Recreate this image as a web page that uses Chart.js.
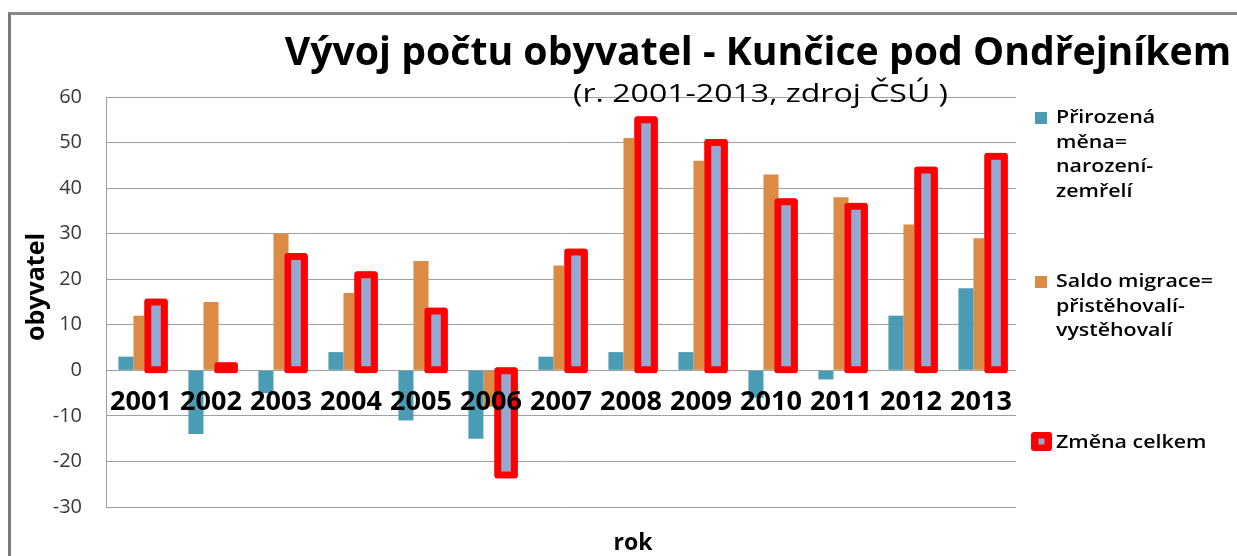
<!DOCTYPE html>
<html lang="cs">

<head>
    <meta charset="UTF-8">
    <title>Vývoj počtu obyvatel - Kunčice pod Ondřejníkem</title>
    <script src="https://cdn.jsdelivr.net/npm/chart.js"></script>
    <style>
        html, body { margin: 0; padding: 0; background: #fff; overflow: hidden; }
        .ramecek {
            position: absolute; left: 8px; top: 12px; width: 1400px; height: 700px;
            border-left: 3px solid #7a7a7a; border-top: 3px solid #8a8a8a;
        }
        .graf { position: absolute; left: 0; top: 0; }
    </style>
</head>

<body>
    <div class="ramecek"></div>
    <div class="graf">
        <canvas id="myChart" width="1237" height="556"></canvas>
    </div>

<script>
    // data
    var roky = ['2001', '2002', '2003', '2004', '2005', '2006', '2007', '2008', '2009', '2010', '2011', '2012', '2013'];
    var prirozenaMena = [3, -14, -5, 4, -11, -15, 3, 4, 4, -6, -2, 12, 18];
    var saldoMigrace = [12, 15, 30, 17, 24, -8, 23, 51, 46, 43, 38, 32, 29];
    var zmenaCelkem = [15, 1, 25, 21, 13, -23, 26, 55, 50, 37, 36, 44, 47];
    var osaYMin = -30;
    var osaYMax = 60;
    var osaYKrok = 10;

    var nadpis = 'Vývoj počtu obyvatel - Kunčice pod Ondřejníkem';
    var podnadpis = '(r. 2001-2013, zdroj ČSÚ )';
    var popisX = 'rok';
    var popisY = 'obyvatel';
    var legendaRadky = [
        ['Přirozená', 'měna=', 'narození-', 'zemřelí'],
        ['Saldo migrace=', 'přistěhovalí-', 'vystěhovalí'],
        ['Změna celkem']
    ];

    var pismo = "'Open Sans', 'Noto Sans', sans-serif";

    // text roztazeny do sirky (puvodni graf je roztazeny)
    function textSirka(ctx, text, x, y, sx) {
        ctx.save();
        ctx.translate(x, y);
        ctx.scale(sx, 1);
        ctx.fillText(text, 0, 0);
        ctx.restore();
    }

    // nadpisy, popisky os a legenda
    const popisky = {
        id: 'popisky',
        afterDraw(chart) {
            const ctx = chart.ctx;
            ctx.save();
            ctx.fillStyle = '#000';
            ctx.textAlign = 'center';
            ctx.textBaseline = 'alphabetic';

            ctx.font = 'bold 34px ' + pismo;
            let sirka = ctx.measureText(nadpis).width;
            let velikost = 34 * 947 / sirka;
            ctx.font = 'bold ' + velikost.toFixed(1) + 'px ' + pismo;
            ctx.fillText(nadpis, 758, 65);

            ctx.font = '25px ' + pismo;
            sirka = ctx.measureText(podnadpis).width;
            textSirka(ctx, podnadpis, 760.5, 102, 375 / sirka);

            ctx.font = 'bold 23px ' + pismo;
            ctx.fillText(popisX, 633, 550);

            ctx.save();
            ctx.translate(44, 287);
            ctx.rotate(-Math.PI / 2);
            ctx.font = 'bold 25px ' + pismo;
            ctx.fillText(popisY, 0, 0);
            ctx.restore();

            // legenda
            const ds = chart.data.datasets;
            const zacatky = [123, 287, 448];
            ctx.textAlign = 'left';
            ctx.font = '600 18px ' + pismo;
            const sx = 157 / ctx.measureText(legendaRadky[1][0]).width;
            for (let i = 0; i < ds.length; i++) {
                const y0 = zacatky[i];
                if (i < 2) {
                    ctx.fillStyle = ds[i].backgroundColor;
                    ctx.fillRect(1035, y0 - 11, 12, 12);
                } else {
                    ctx.fillStyle = ds[i].borderColor;
                    ctx.beginPath();
                    ctx.roundRect(1031, y0 - 16, 21, 19, 3);
                    ctx.fill();
                    ctx.fillStyle = '#94a9d1';
                    ctx.fillRect(1038.5, y0 - 9.5, 6, 6);
                }
                ctx.fillStyle = '#000';
                const radky = legendaRadky[i];
                for (let r = 0; r < radky.length; r++) {
                    textSirka(ctx, radky[r], 1056, y0 + r * 24.5, sx);
                }
            }
            ctx.restore();
        }
    };

    // cervene sloupce navrch
    const cervenaNavrch = {
        id: 'cervenaNavrch',
        afterDatasetsDraw(chart) {
            const meta = chart.getDatasetMeta(2);
            if (meta && meta.controller) meta.controller.draw();
        }
    };

    const config = {
        type: 'bar',
        data: {
            labels: roky,
            datasets: [{
                label: legendaRadky[0].join(' '),
                data: prirozenaMena,
                backgroundColor: '#4a9cb5',
                borderWidth: 0,
                barPercentage: 1,
                categoryPercentage: 0.645
            }, {
                label: legendaRadky[1].join(' '),
                data: saldoMigrace,
                backgroundColor: '#dc8b45',
                borderWidth: 0,
                barPercentage: 1,
                categoryPercentage: 0.645
            }, {
                label: legendaRadky[2].join(' '),
                data: zmenaCelkem,
                backgroundColor: function (c) {
                    return Math.abs(c.raw) < 3 ? '#ff0000' : '#94a9d1';
                },
                borderColor: '#ff0000',
                borderWidth: 7,
                borderRadius: 3,
                borderSkipped: false,
                inflateAmount: 3.5,
                barPercentage: 1.1,
                categoryPercentage: 0.645
            }]
        },
        options: {
            responsive: false,
            animation: false,
            layout: {
                padding: { top: 97, right: 221, bottom: 49, left: 10 }
            },
            plugins: {
                legend: { display: false },
                title: { display: false },
                tooltip: { enabled: false }
            },
            scales: {
                x: {
                    position: { y: 0 },
                    offset: true,
                    grid: { display: false, drawTicks: false },
                    border: { display: false },
                    ticks: {
                        z: 1,
                        autoSkip: false,
                        maxRotation: 0,
                        padding: 16,
                        color: '#000',
                        font: { size: 27, weight: 'bold', family: pismo }
                    }
                },
                y: {
                    min: osaYMin,
                    max: osaYMax,
                    afterFit: function (scale) { scale.width = 96; },
                    grid: { color: '#a0a0a0', lineWidth: 1, drawTicks: false },
                    border: { display: true, color: '#a0a0a0', width: 1 },
                    ticks: {
                        stepSize: osaYKrok,
                        padding: 24,
                        color: '#383838',
                        font: { size: 20, family: pismo }
                    }
                }
            }
        },
        plugins: [cervenaNavrch, popisky]
    };

    let ctx = document.getElementById('myChart').getContext('2d');
    let myChart = new Chart(ctx, config);
</script>
</body>

</html>
